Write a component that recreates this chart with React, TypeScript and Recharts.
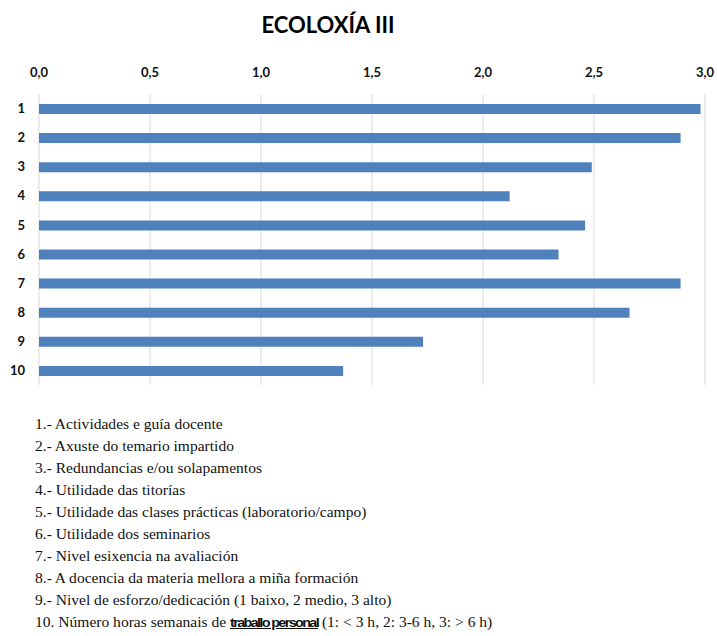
import React from "react";
import {Bar, BarChart, CartesianGrid, XAxis, YAxis} from "recharts";

const questions = ["1", "2", "3", "4", "5", "6", "7", "8", "9", "10"];
const scores = [2.98, 2.89, 2.49, 2.12, 2.46, 2.34, 2.89, 2.66, 1.73, 1.37];
const axisTicks = [0, 0.5, 1, 1.5, 2, 2.5, 3];

const legendLines = [
   "1.- Actividades e guía docente",
   "2.- Axuste do temario impartido",
   "3.- Redundancias e/ou solapamentos",
   "4.- Utilidade das titorías",
   "5.- Utilidade das clases prácticas (laboratorio/campo)",
   "6.- Utilidade dos seminarios",
   "7.- Nivel esixencia na avaliación",
   "8.- A docencia da materia mellora a miña formación",
   "9.- Nivel de esforzo/dedicación (1 baixo, 2 medio, 3 alto)",
];
const lastLine = ["10. Número horas semanais de ", "traballo personal", " (1: < 3 h, 2: 3-6 h, 3: > 6 h)"];

const data = questions.map((q, i) => ({q, value: scores[i]}));

const tickStyle = {fontFamily: "Lato", fontWeight: 700, fontSize: 13, fill: "#111"};

const App: React.FC = () => {
   return (
      <div style={{position: "absolute", left: 0, top: 0, width: 717, height: 636, background: "#fff"}}>
         <div
            style={{
               position: "absolute", left: 0, top: 14, width: 656, textAlign: "center",
               fontFamily: "Lato", fontWeight: 700, fontSize: 22, lineHeight: "22px", color: "#000",
            }}
         >
            ECOLOXÍA III
         </div>

         <div style={{position: "absolute", left: 0, top: 0}}>
            <BarChart
               width={717}
               height={400}
               data={data}
               layout="vertical"
               margin={{top: 64, right: 12, left: 0, bottom: 15}}
            >
               <CartesianGrid horizontal={false} stroke="#d9d9d9"/>
               <XAxis
                  type="number"
                  orientation="top"
                  domain={[0, 3]}
                  ticks={axisTicks}
                  height={30}
                  axisLine={false}
                  tickLine={false}
                  tickMargin={11}
                  tick={tickStyle}
                  tickFormatter={(v: number) => v.toFixed(1).replace(".", ",")}
               />
               <YAxis
                  type="category"
                  dataKey="q"
                  width={39}
                  axisLine={false}
                  tickLine={false}
                  tickMargin={8}
                  tick={tickStyle}
               />
               <Bar dataKey="value" fill="#4F81BD" barSize={10} isAnimationActive={false}/>
            </BarChart>
         </div>

         {/* legend text is a little wider than plain Times, so stretch it */}
         <div
            style={{
               position: "absolute", left: 35, top: 414, fontFamily: "Liberation Serif",
               fontSize: 14, lineHeight: "22px", color: "#111", whiteSpace: "nowrap",
               transform: "scaleX(1.11)", transformOrigin: "0 0",
            }}
         >
            {legendLines.map((line) => (
               <div key={line}>{line}</div>
            ))}
            <div>
               {lastLine[0]}
               <span
                  style={{
                     fontFamily: "Liberation Sans", fontWeight: 700, fontSize: 13,
                     letterSpacing: -1.5, textDecoration: "underline",
                  }}
               >
                  {lastLine[1]}
               </span>
               {lastLine[2]}
            </div>
         </div>
      </div>
   );
};

export default App;
